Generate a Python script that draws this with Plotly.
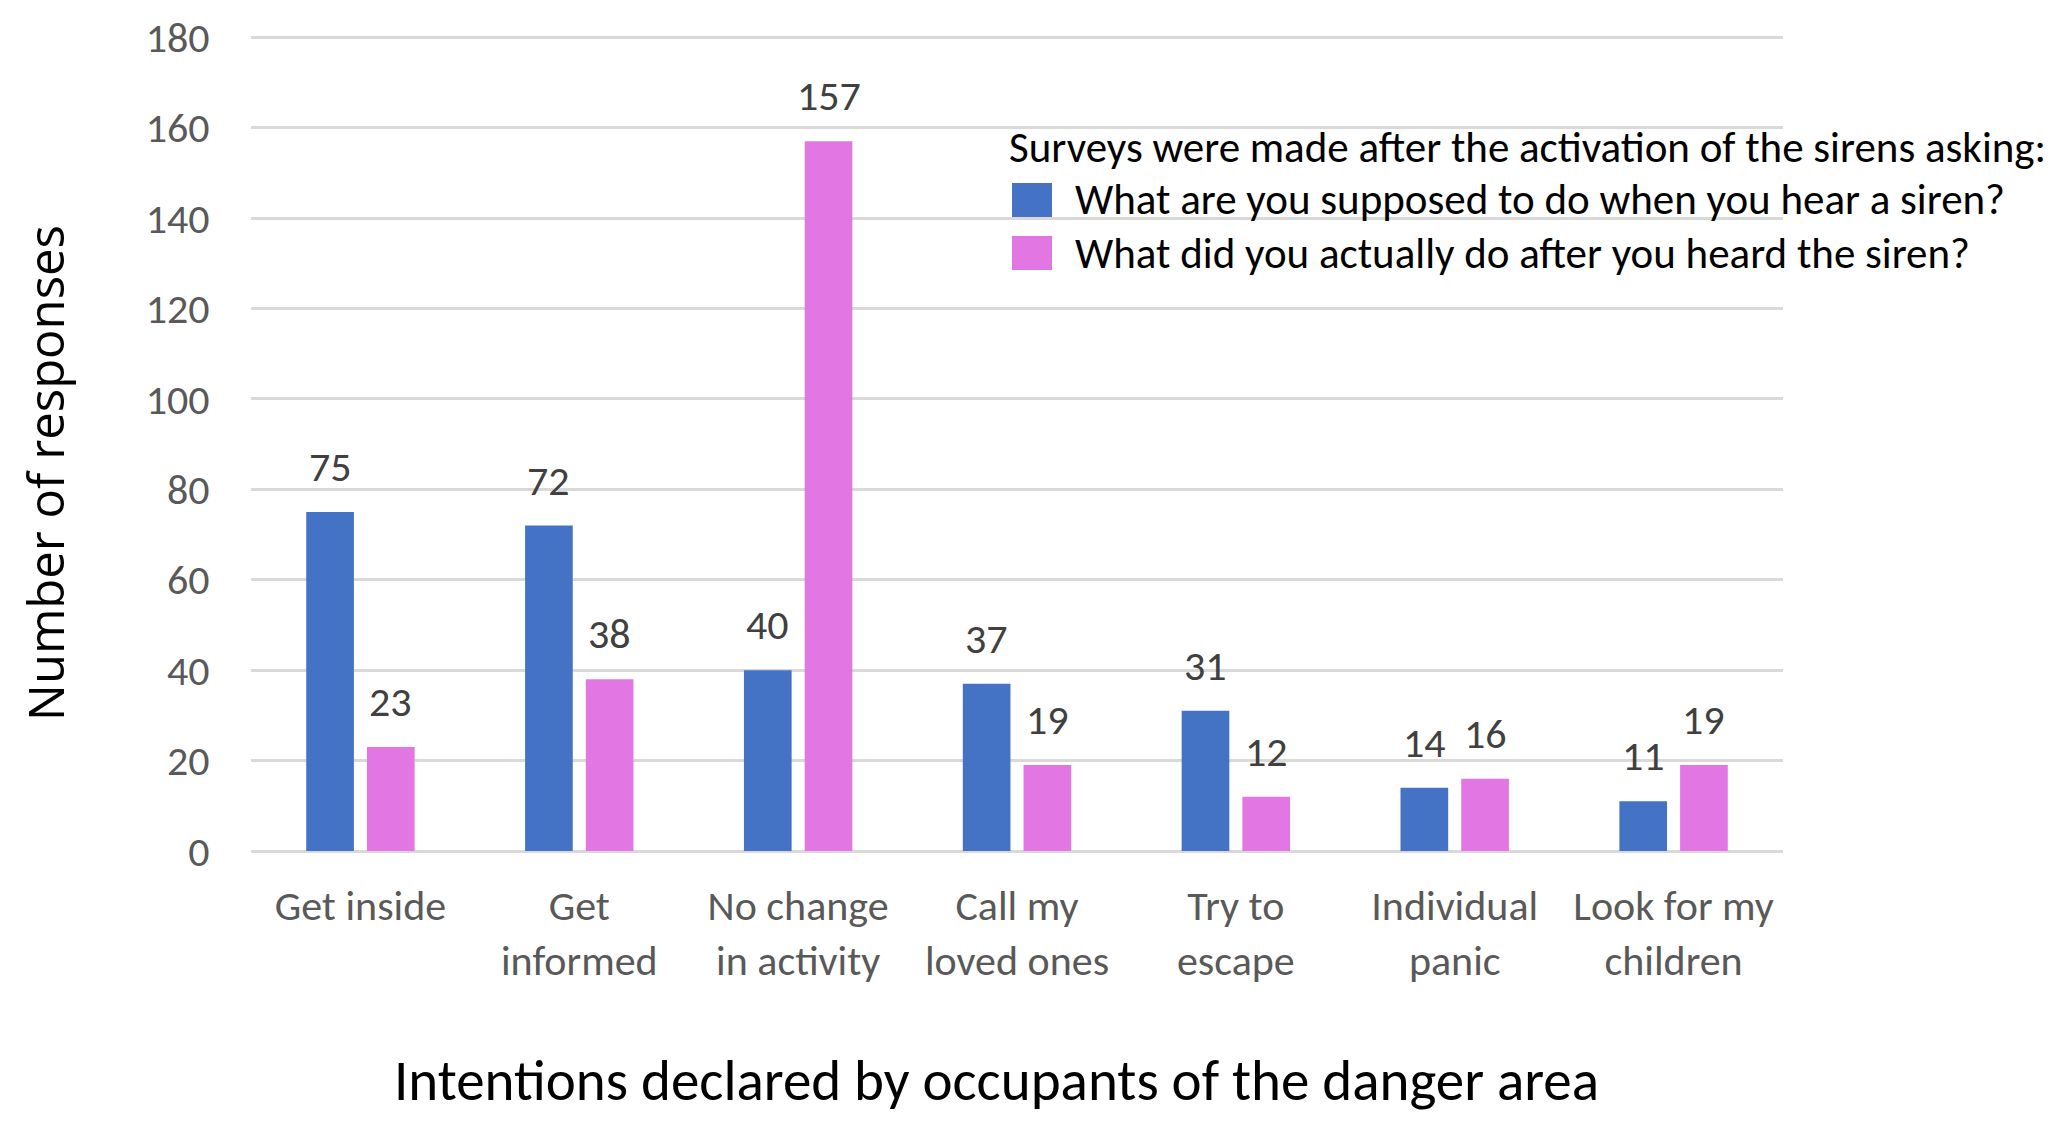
import plotly.graph_objects as go

categories = ["Get inside", "Get<br>informed", "No change<br>in activity", "Call my<br>loved ones",
              "Try to<br>escape", "Individual<br>panic", "Look for my<br>children"]
series_names = ["What are you supposed to do when you hear a siren?",
                "What did you actually do after you heard the siren?"]
supposed = [75, 72, 40, 37, 31, 14, 11]
actual = [23, 38, 157, 19, 12, 16, 19]
y_ticks = [0, 20, 40, 60, 80, 100, 120, 140, 160, 180]
legend_title = "Surveys were made after the activation of the sirens asking:"
x_title = "Intentions declared by occupants of the danger area"
y_title = "Number of responses"

colors = ["#4472C4", "#E277E3"]
FONT = "Carlito, Liberation Sans Narrow, Liberation Sans, sans-serif"

W, H = 2067, 1130
L, R, T, B = 243, 292, 27, 287
BARGAP, GROUPGAP = 0.445, 0.215

fig = go.Figure()
for name, vals, col in zip(series_names, [supposed, actual], colors):
    fig.add_trace(go.Bar(x=categories, y=vals, name=name, marker_color=col,
                         marker_line_width=0, showlegend=False))

# data labels
plot_w = W - L - R
cat_w = plot_w / len(categories)
slot = cat_w * (1 - BARGAP) / 2
for i, vals in enumerate([supposed, actual]):
    shift = (i - 0.5) * slot
    for c, v in zip(categories, vals):
        fig.add_annotation(x=c, y=v, text=str(v), showarrow=False, xshift=shift,
                           yanchor="bottom", yshift=18,
                           font=dict(family=FONT, size=42, color="#404040"))

# legend (manual, large swatches)
ph = H - T - B
def py(p):
    return (H - B - p) / ph
def px(p):
    return (p - L) / plot_w

fig.add_annotation(xref="paper", yref="paper", x=px(999), y=py(140), text=legend_title,
                   showarrow=False, xanchor="left", yanchor="middle",
                   font=dict(family=FONT, size=43, color="#000000"))
for k, (name, col) in enumerate(zip(series_names, colors)):
    yc = [192, 245][k]
    fig.add_shape(type="rect", xref="paper", yref="paper", x0=px(1004), x1=px(1044),
                  y0=py(yc + 17), y1=py(yc - 17), fillcolor=col, line_width=0)
    fig.add_annotation(xref="paper", yref="paper", x=px(1065), y=py(yc), text=name,
                       showarrow=False, xanchor="left", yanchor="middle",
                       font=dict(family=FONT, size=43, color="#000000"))

# axis titles
fig.add_annotation(xref="paper", yref="paper", x=px(988), y=py(1072), text=x_title,
                   showarrow=False, xanchor="center", yanchor="middle",
                   font=dict(family=FONT, size=57, color="#000000"))
fig.add_annotation(xref="paper", yref="paper", x=px(37), y=py(465), text=y_title,
                   showarrow=False, xanchor="center", yanchor="middle", textangle=-90,
                   font=dict(family="Open Sans, sans-serif", size=49, color="#000000"))

fig.update_layout(
    width=W, height=H, margin=dict(l=L, r=R, t=T, b=B),
    paper_bgcolor="white", plot_bgcolor="white",
    barmode="group", bargap=BARGAP, bargroupgap=GROUPGAP,
    font=dict(family=FONT, size=42, color="#595959"),
)
fig.update_xaxes(showgrid=False, showline=False, ticks="outside", ticklen=18, automargin=False,
                 tickcolor="rgba(0,0,0,0)", tickfont=dict(family=FONT, size=42, color="#595959"))
fig.update_yaxes(range=[0, 180.5], tickvals=y_ticks, showgrid=True, gridcolor="#D9D9D9",
                 gridwidth=3, zeroline=True, zerolinecolor="#D9D9D9", zerolinewidth=3,
                 showline=False, ticks="outside", ticklen=32, tickcolor="rgba(0,0,0,0)",
                 ticklabeloverflow="allow", automargin=False,
                 tickfont=dict(family=FONT, size=42, color="#595959"))

fig.write_html("out.html")
